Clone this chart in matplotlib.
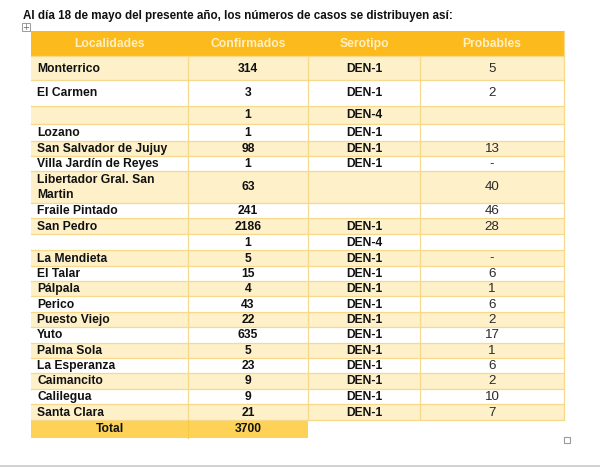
import matplotlib
matplotlib.use('Agg')
import matplotlib.pyplot as plt
from matplotlib.patches import Rectangle

# datos de la tabla
titulo = 'Al día 18 de mayo del presente año, los números de casos se distribuyen así:'
encabezados = ['Localidades', 'Confirmados', 'Serotipo', 'Probables']
localidades = ['Monterrico', 'El Carmen', '', 'Lozano', 'San Salvador de Jujuy',
               'Villa Jardín de Reyes', 'Libertador Gral. San\nMartin', 'Fraile Pintado',
               'San Pedro', '', 'La Mendieta', 'El Talar', 'Pálpala', 'Perico',
               'Puesto Viejo', 'Yuto', 'Palma Sola', 'La Esperanza', 'Caimancito',
               'Calilegua', 'Santa Clara']
confirmados = [314, 3, 1, 1, 98, 1, 63, 241, 2186, 1, 5, 15, 4, 43, 22, 635, 5, 23, 9, 9, 21]
serotipo = ['DEN-1', 'DEN-1', 'DEN-4', 'DEN-1', 'DEN-1', 'DEN-1', '', '', 'DEN-1', 'DEN-4',
            'DEN-1', 'DEN-1', 'DEN-1', 'DEN-1', 'DEN-1', 'DEN-1', 'DEN-1', 'DEN-1', 'DEN-1',
            'DEN-1', 'DEN-1']
probables = ['5', '2', '', '', '13', '-', '40', '46', '28', '', '-', '6', '1', '6', '2',
             '17', '1', '6', '2', '10', '7']
total_label = 'Total'
total = 3700

# layout (pixeles)
col_x = [31, 188, 308, 420, 564]
top = 31
head_h = 25
row_h = [24, 26, 18, 17, 15, 15, 32, 15, 16, 16, 16, 15, 15, 16, 15, 16, 15, 15, 16, 15, 16]
total_h = 18

ORANGE = '#FDBA1C'
LIGHT = '#FEF0C8'
TOTAL_C = '#FDD257'
GRID = '#F6D98A'
FONT = 'Liberation Sans'
FS = 8.75

fig = plt.figure(figsize=(6, 4.68), dpi=100)
ax = fig.add_axes([0, 0, 1, 1])
ax.set_xlim(0, 600)
ax.set_ylim(468, 0)
ax.axis('off')

# restos de la interfaz
ax.axhline(465.5, color='#c9c9c9', lw=1.2)
ax.add_patch(Rectangle((564, 437), 6, 6, fill=False, ec='#9a9a9a', lw=0.8))
ax.add_patch(Rectangle((22, 23), 8, 8, fill=False, ec='#9a9a9a', lw=0.7))
ax.text(26, 27, '+', fontsize=6, ha='center', va='center', color='#666666')

ax.text(23, 16, titulo, fontsize=8.4, fontweight='bold', family=FONT,
        ha='left', va='center', color='#111111')

# encabezado
ax.add_patch(Rectangle((col_x[0], top), col_x[-1] - col_x[0], head_h, color=ORANGE, lw=0))
for i, h in enumerate(encabezados):
    ax.text((col_x[i] + col_x[i + 1]) / 2, top + head_h / 2 + 0.5, h, fontsize=FS,
            fontweight='bold', family=FONT, ha='center', va='center', color='#FFF0C4')

y = top + head_h
for r in range(len(localidades)):
    h = row_h[r]
    fc = LIGHT if r % 2 == 0 else 'white'
    ax.add_patch(Rectangle((col_x[0], y), col_x[-1] - col_x[0], h, color=fc, lw=0))
    yc = y + h / 2 + 0.5
    ax.text(col_x[0] + 6, yc, localidades[r], fontsize=FS, fontweight='bold', family=FONT,
            ha='left', va='center', color='#111111', linespacing=1.3)
    ax.text((col_x[1] + col_x[2]) / 2, yc, str(confirmados[r]), fontsize=FS,
            fontweight='bold', family=FONT, ha='center', va='center', color='#111111')
    ax.text((col_x[2] + col_x[3]) / 2, yc, serotipo[r], fontsize=FS,
            fontweight='bold', family=FONT, ha='center', va='center', color='#111111')
    ax.text((col_x[3] + col_x[4]) / 2, yc, probables[r], fontsize=9.6,
            family=FONT, ha='center', va='center', color='#2a2a2a')
    ax.plot([col_x[0], col_x[-1]], [y, y], color=GRID, lw=0.9)
    y += h
ax.plot([col_x[0], col_x[-1]], [y, y], color=GRID, lw=0.9)
for x in col_x[1:-1]:
    ax.plot([x, x], [top + head_h, y], color=GRID, lw=0.9)
ax.plot([col_x[-1], col_x[-1]], [top, y], color=GRID, lw=0.9)

# fila total
ax.add_patch(Rectangle((col_x[0], y), col_x[2] - col_x[0], total_h, color=TOTAL_C, lw=0))
ax.plot([col_x[1], col_x[1]], [y, y + total_h], color='#F5C94A', lw=0.8)
ax.text((col_x[0] + col_x[1]) / 2, y + total_h / 2 + 0.5, total_label, fontsize=FS,
        fontweight='bold', family=FONT, ha='center', va='center', color='#111111')
ax.text((col_x[1] + col_x[2]) / 2, y + total_h / 2 + 0.5, str(total), fontsize=FS,
        fontweight='bold', family=FONT, ha='center', va='center', color='#111111')

fig.savefig('out.png', dpi=100)
